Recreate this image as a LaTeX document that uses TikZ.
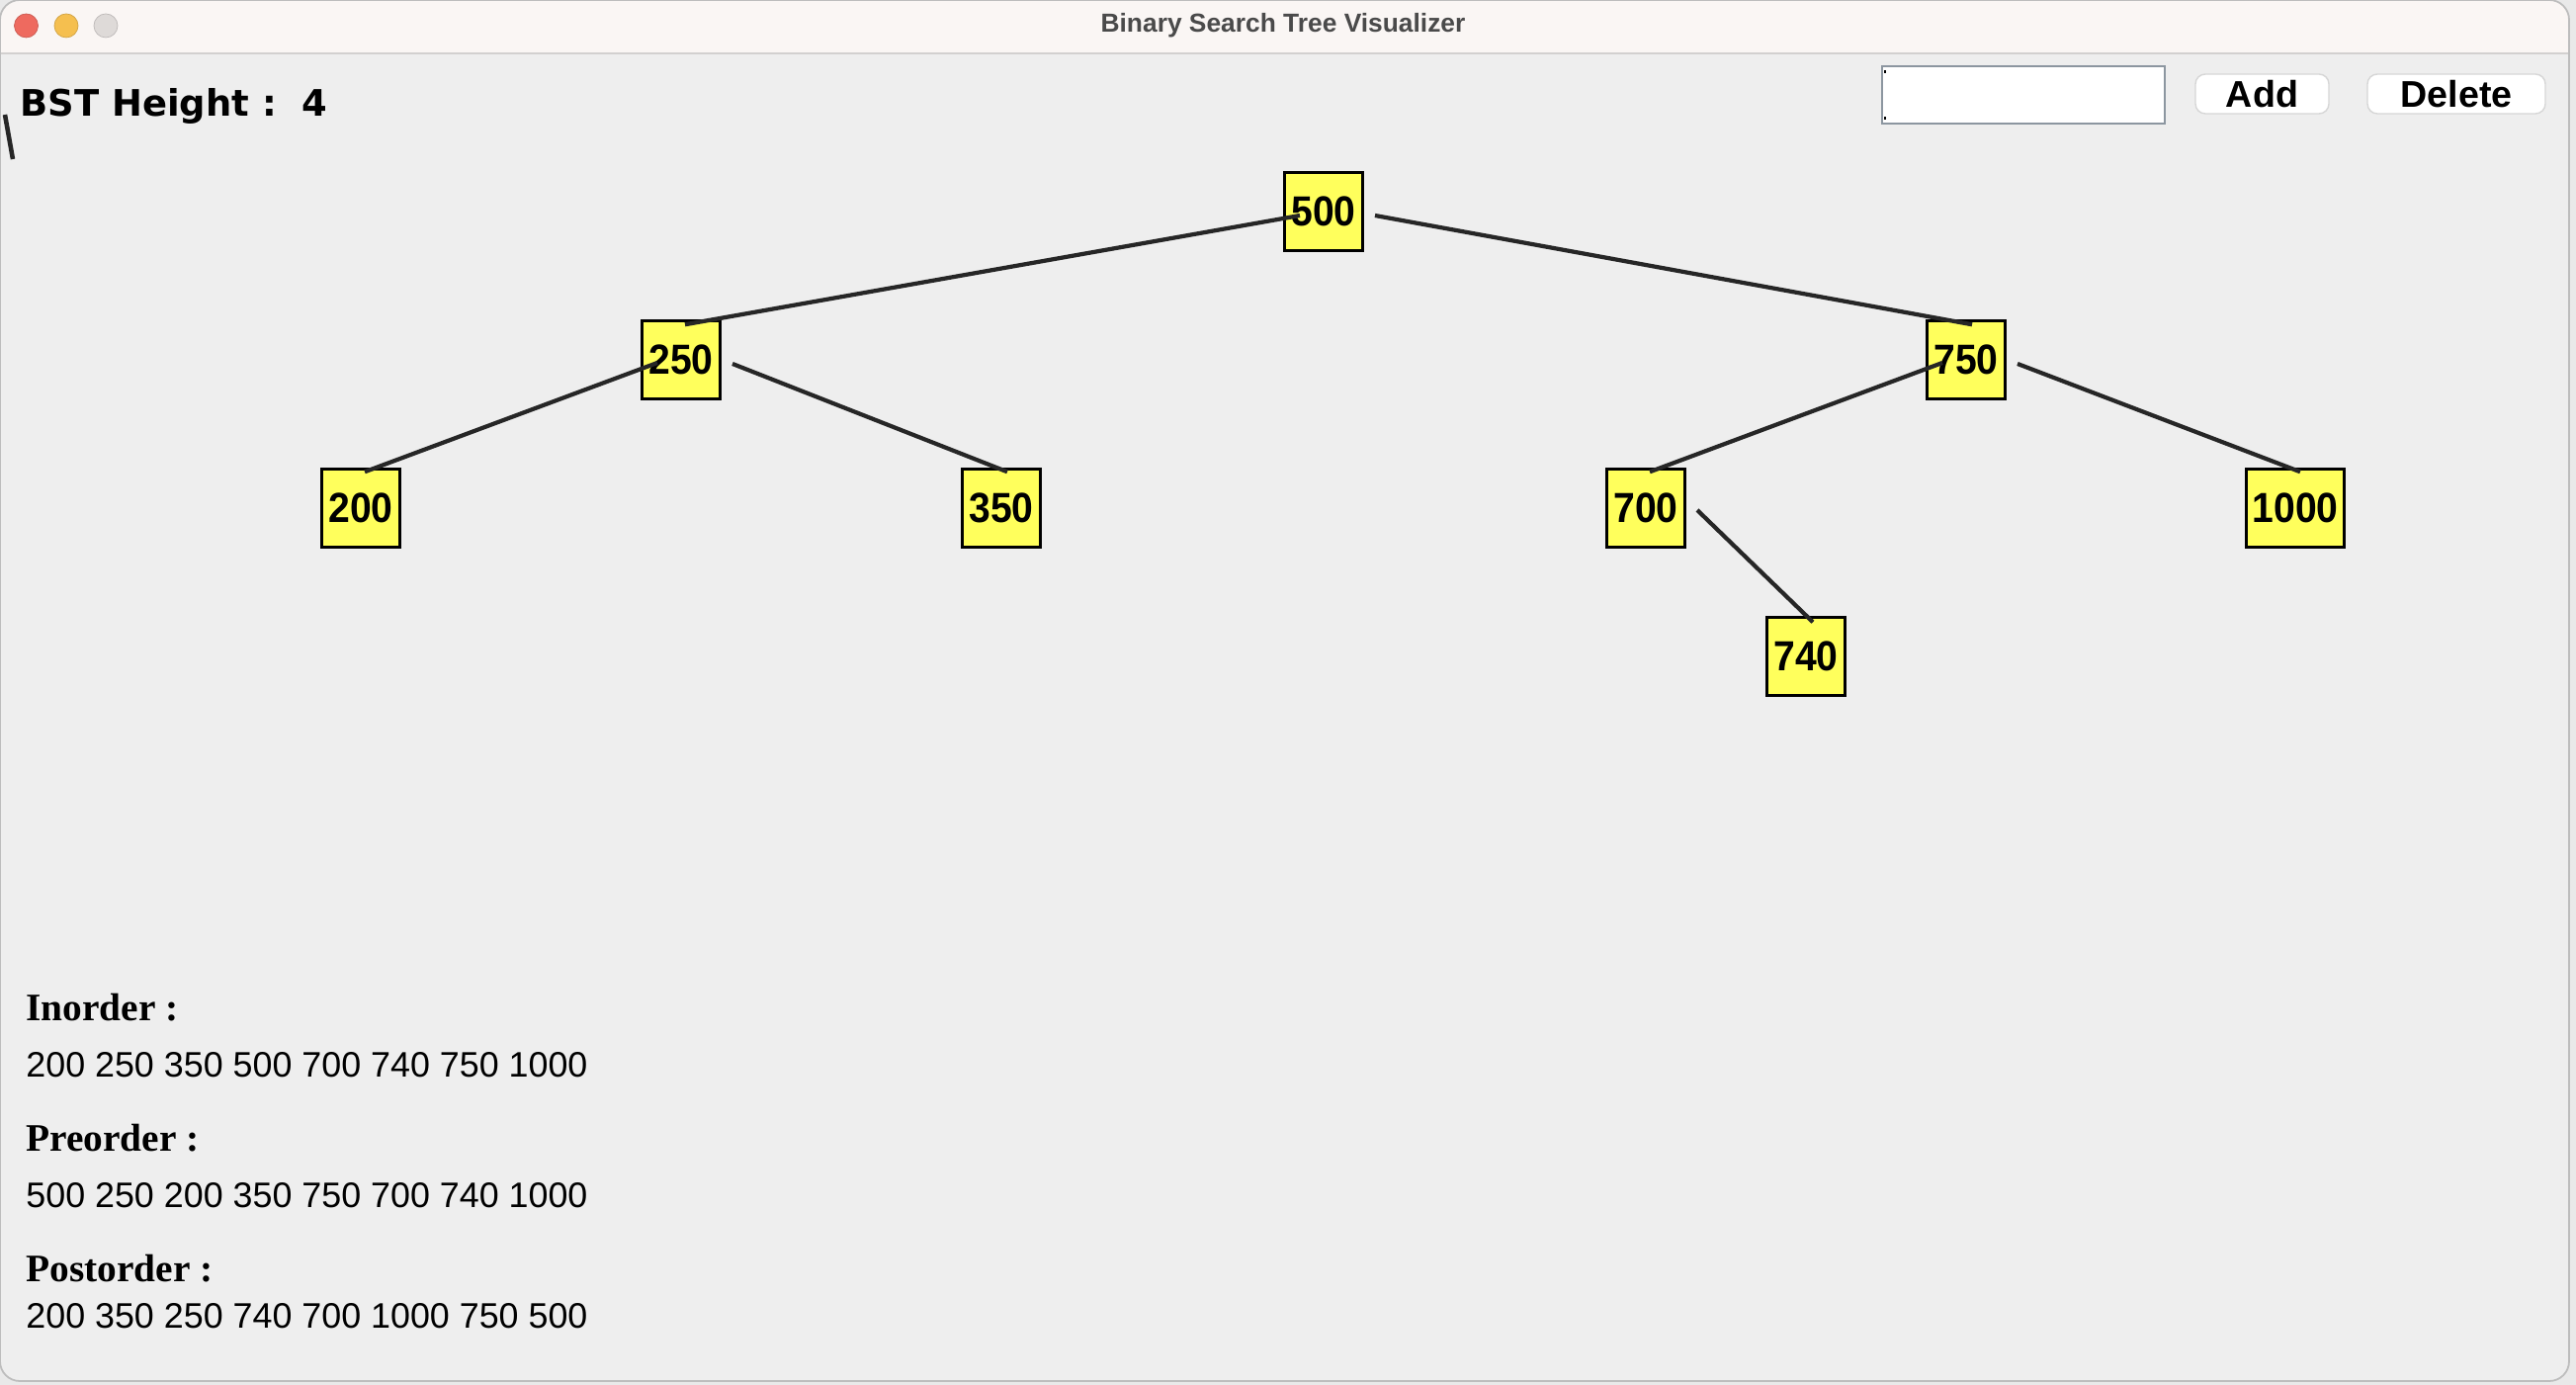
\documentclass[tikz,border=0pt]{standalone}
\usepackage{fontspec}
\setmainfont{Liberation Sans}
\newfontfamily\nodefont{Liberation Sans}[FakeStretch=0.92]
\newfontfamily\headfont{DejaVu Sans}
\newfontfamily\serifhead{Liberation Serif}
\usetikzlibrary{calc}

\definecolor{outerbg}{HTML}{E9E9E9}
\definecolor{winbg}{HTML}{EEEEEE}
\definecolor{barbg}{HTML}{FAF6F4}
\definecolor{barline}{HTML}{D2D0CF}
\definecolor{wingray}{HTML}{BDBDBD}
\definecolor{nodeyellow}{HTML}{FFFF5C}
\definecolor{edgegray}{HTML}{262626}
\definecolor{titlegray}{HTML}{4A4A4A}
\definecolor{fieldgray}{HTML}{8C96A0}
\definecolor{btnedge}{HTML}{D6D6D6}
\definecolor{dotred}{HTML}{EE6A5F}
\definecolor{dotyellow}{HTML}{F5BF4F}
\definecolor{dotgray}{HTML}{DEDAD8}

\tikzset{
    bst/.style={draw, line width=0.7pt, fill=nodeyellow, minimum size=0.79cm, inner xsep=0.06cm, inner ysep=0pt, font=\nodefont\bfseries\fontsize{12.1}{14}\selectfont},
    link/.style={draw=edgegray, line width=1.2pt},
    btn/.style={draw=btnedge, fill=white, rounded corners=0.1cm, minimum height=0.40cm, inner sep=0pt, font=\bfseries\fontsize{10.7}{12}\selectfont},
    heading/.style={anchor=base west, inner sep=0pt, font=\serifhead\bfseries\fontsize{11.2}{13}\selectfont},
    listing/.style={anchor=base west, inner sep=0pt, font=\fontsize{10.2}{12}\selectfont}
}

\begin{document}
\begin{tikzpicture}
    \useasboundingbox (0,0) rectangle (26.06,-14.01);
    \fill [outerbg] (0,0) rectangle (26.06,-14.01);
    \fill [winbg, rounded corners=0.2cm] (0,0) rectangle (25.99,-13.97);
    \begin{scope}
        \clip [rounded corners=0.2cm] (0,0) rectangle (25.99,-13.97);
        \fill [barbg] (0,0) rectangle (25.99,-0.54);
    \end{scope}
    \draw [barline, line width=0.5pt] (0,-0.54) -- (25.99,-0.54);
    \draw [wingray, line width=0.5pt, rounded corners=0.2cm] (0,0) rectangle (25.99,-13.97);
    \filldraw [fill=dotred, draw=dotred!85!black, line width=0.2pt] (0.265,-0.26) circle (0.12);
    \filldraw [fill=dotyellow, draw=dotyellow!85!black, line width=0.2pt] (0.67,-0.26) circle (0.12);
    \filldraw [fill=dotgray, draw=dotgray!85!black, line width=0.2pt] (1.07,-0.26) circle (0.12);
    \node [anchor=base, inner sep=0pt, text=titlegray, font=\bfseries\fontsize{7.5}{9}\selectfont] (title) at (12.98,-0.33) {Binary Search Tree Visualizer};

    \node [anchor=base west, inner sep=0pt, font=\headfont\bfseries\fontsize{10.5}{12}\selectfont] (height) at (0.20,-1.18) {BST Height :\hspace{0.26cm}4};
    \coordinate (stubA) at (0.05,-1.16);
    \coordinate (stubB) at (0.13,-1.61);
    \draw [edgegray, line width=1.3pt] (stubA) -- (stubB);

    \node [draw=fieldgray, fill=white, line width=0.6pt, minimum width=2.86cm, minimum height=0.58cm, inner sep=0pt] (entry) at (20.47,-0.96) {};
    \draw [black, line width=0.8pt] ($(entry.north west)+(0.04,-0.05)$) -- ++(0,-0.03);
    \draw [black, line width=0.8pt] ($(entry.south west)+(0.04,0.05)$) -- ++(0,0.03);
    \node [btn, minimum width=1.35cm] (add) at (22.885,-0.95) {Add};
    \node [btn, minimum width=1.80cm] (delete) at (24.85,-0.95) {Delete};

    \node [bst] (N500) at (13.39,-2.14) {500};
        \node [bst] (N250) at ($(N500) + (-6.5, -1.5)$) {250};
        \node [bst] (N750) at ($(N500) + (6.5, -1.5)$) {750};
        \node [bst] (N200) at ($(N250) + (-3.24, -1.5)$) {200};
        \node [bst] (N350) at ($(N250) + (3.24, -1.5)$) {350};
        \node [bst] (N700) at ($(N750) + (-3.24, -1.5)$) {700};
        \node [bst] (N1000) at ($(N750) + (3.33, -1.5)$) {1000};
        \node [bst] (N740) at ($(N700) + (1.62, -1.5)$) {740};
    \draw [link] ($(N500) + (-0.24, -0.04)$) -- ($(N250.north) + (0.04, -0.05)$);
    \draw [link] ($(N500) + (0.52, -0.04)$) -- ($(N750.north) + (0.06, -0.05)$);
    \draw [link] ($(N250) + (-0.24, -0.03)$) -- ($(N200.north) + (0.04, -0.04)$);
    \draw [link] ($(N250) + (0.52, -0.04)$) -- ($(N350.north) + (0.06, -0.04)$);
    \draw [link] ($(N750) + (-0.24, -0.03)$) -- ($(N700.north) + (0.04, -0.04)$);
    \draw [link] ($(N750) + (0.52, -0.04)$) -- ($(N1000.north) + (0.05, -0.04)$);
    \draw [link] ($(N700) + (0.52, -0.02)$) -- ($(N740.north) + (0.07, -0.06)$);

    \node [heading] (inorder) at (0.257,-10.33) {Inorder :};
    \node [listing] (inlist) at (0.257,-10.90) {200 250 350 500 700 740 750 1000};
    \node [heading] (preorder) at (0.257,-11.65) {Preorder :};
    \node [listing] (prelist) at (0.257,-12.217) {500 250 200 350 750 700 740 1000};
    \node [heading] (postorder) at (0.257,-12.967) {Postorder :};
    \node [listing] (postlist) at (0.257,-13.433) {200 350 250 740 700 1000 750 500};
\end{tikzpicture}
\end{document}
